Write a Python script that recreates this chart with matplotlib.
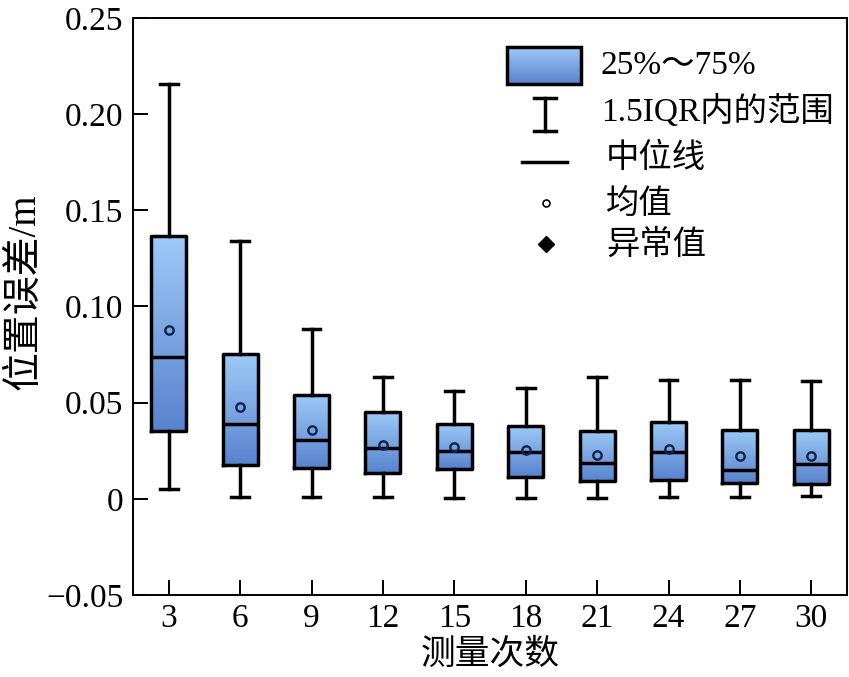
import numpy as np
import matplotlib
matplotlib.use("Agg")
import matplotlib.pyplot as plt
from matplotlib.colors import LinearSegmentedColormap
from matplotlib.patches import Rectangle
from matplotlib.lines import Line2D

plt.rcParams['font.family'] = ['Liberation Serif', 'Noto Sans CJK SC', 'DejaVu Sans']
plt.rcParams['axes.unicode_minus'] = True

# ---- data ----
categories = ['3', '6', '9', '12', '15', '18', '21', '24', '27', '30']
whisker_low = [0.0050, 0.0012, 0.0012, 0.0012, 0.0004, 0.0004, 0.0004, 0.0009, 0.0012, 0.0017]
q1 = [0.0353, 0.0178, 0.0159, 0.0133, 0.0154, 0.0111, 0.0093, 0.0099, 0.0081, 0.0078]
medians = [0.0739, 0.0389, 0.0306, 0.0263, 0.0251, 0.0241, 0.0185, 0.0246, 0.0151, 0.0180]
q3 = [0.1367, 0.0754, 0.0542, 0.0453, 0.0388, 0.0379, 0.0355, 0.0401, 0.0358, 0.0358]
whisker_high = [0.2158, 0.1343, 0.0881, 0.0632, 0.0562, 0.0578, 0.0635, 0.0618, 0.0618, 0.0613]
means = [0.0877, 0.0476, 0.0358, 0.0280, 0.0272, 0.0254, 0.0227, 0.0258, 0.0223, 0.0222]
yticks = [-0.05, 0, 0.05, 0.10, 0.15, 0.20, 0.25]
ytick_labels = ['\u22120.05', '0', '0.05', '0.10', '0.15', '0.20', '0.25']
legend_labels = ['25%～75%', '1.5IQR内的范围', '中位线', '均值', '异常值']

W, H = 849, 677
fig = plt.figure(figsize=(W / 100, H / 100), dpi=100)
ax = fig.add_axes([133 / W, 1 - 595 / H, (847 - 133) / W, (595 - 18) / H])

cmap = LinearSegmentedColormap.from_list('bx', ['#5882CE', '#9DCAF7'])
grad = np.linspace(0, 1, 256).reshape(-1, 1)

positions = np.arange(1, len(categories) + 1)
box_w = 0.49
stats = []
for i in range(len(categories)):
    stats.append(dict(whislo=whisker_low[i], q1=q1[i], med=medians[i], q3=q3[i],
                      whishi=whisker_high[i], mean=means[i], fliers=[]))

lw = 2.5
ax.bxp(stats, positions=positions, widths=box_w, capwidths=0.25, showmeans=True,
       showfliers=False,
       boxprops=dict(color='black', linewidth=lw),
       whiskerprops=dict(color='black', linewidth=lw),
       capprops=dict(color='black', linewidth=lw),
       medianprops=dict(color='black', linewidth=lw),
       meanprops=dict(marker='o', markersize=6, markerfacecolor='none',
                      markeredgecolor='#14214a', markeredgewidth=1.7),
       zorder=3)

for i, p in enumerate(positions):
    ax.imshow(grad, extent=[p - box_w / 2, p + box_w / 2, q1[i], q3[i]],
              origin='lower', cmap=cmap, aspect='auto', zorder=2, interpolation='bilinear')

ax.set_xticks(positions)
ax.set_xticklabels(categories)
ax.set_yticks(yticks)
ax.set_yticklabels(ytick_labels)
ax.tick_params(axis='both', direction='in', labelsize=24, width=1.4, length=11,
               top=False, right=False)
ax.tick_params(axis='y', pad=7)
ax.tick_params(axis='x', pad=6)
for s in ax.spines.values():
    s.set_linewidth(1.4)

ax.set_ylabel('位置误差/m', fontsize=28)
ax.yaxis.set_label_coords((25 - 133) / 714, (595 - 292) / 577)
ax.yaxis.label.set_verticalalignment('center')
ax.set_xlabel('测量次数', fontsize=25)
ax.xaxis.set_label_coords(0.5, (595 - 655) / 577)
ax.xaxis.label.set_verticalalignment('center')

# ---- legend (manual, pixel placement) ----
def fx(x):
    return (x - 133) / 714

def fy(y):
    return (595 - y) / 577

T = ax.transAxes
x0, x1, y0, y1 = fx(507), fx(581), fy(84), fy(47)
ax.imshow(grad, extent=[x0, x1, y0, y1], origin='lower', cmap=cmap, aspect='auto',
          transform=T, zorder=4, interpolation='bilinear')
ax.add_patch(Rectangle((x0, y0), x1 - x0, y1 - y0, transform=T, fill=False,
                       edgecolor='black', linewidth=lw, zorder=5))

cx = 545
ax.add_line(Line2D([fx(cx), fx(cx)], [fy(98), fy(131)], transform=T, color='black', lw=lw))
ax.add_line(Line2D([fx(cx - 11), fx(cx + 11)], [fy(98), fy(98)], transform=T, color='black', lw=lw))
ax.add_line(Line2D([fx(cx - 11), fx(cx + 11)], [fy(131), fy(131)], transform=T, color='black', lw=lw))
ax.add_line(Line2D([fx(522), fx(567)], [fy(162), fy(162)], transform=T, color='black', lw=lw))
ax.add_line(Line2D([fx(546)], [fy(203)], transform=T, marker='o', markersize=5,
                   markerfacecolor='white', markeredgecolor='black', markeredgewidth=1.2, lw=0))
ax.add_line(Line2D([fx(546)], [fy(244)], transform=T, marker='D', markersize=8,
                   markerfacecolor='black', markeredgecolor='black', lw=0))

text_pos = [(601, 66), (601, 111), (606, 158), (606, 204), (606, 245)]
for (tx, ty), lab in zip(text_pos, legend_labels):
    ax.text(fx(tx), fy(ty), lab, transform=T, fontsize=24, ha='left', va='center')

ax.set_xlim(0.5, 10.5)
ax.set_ylim(-0.05, 0.25)

fig.savefig('out.png', dpi=100)
